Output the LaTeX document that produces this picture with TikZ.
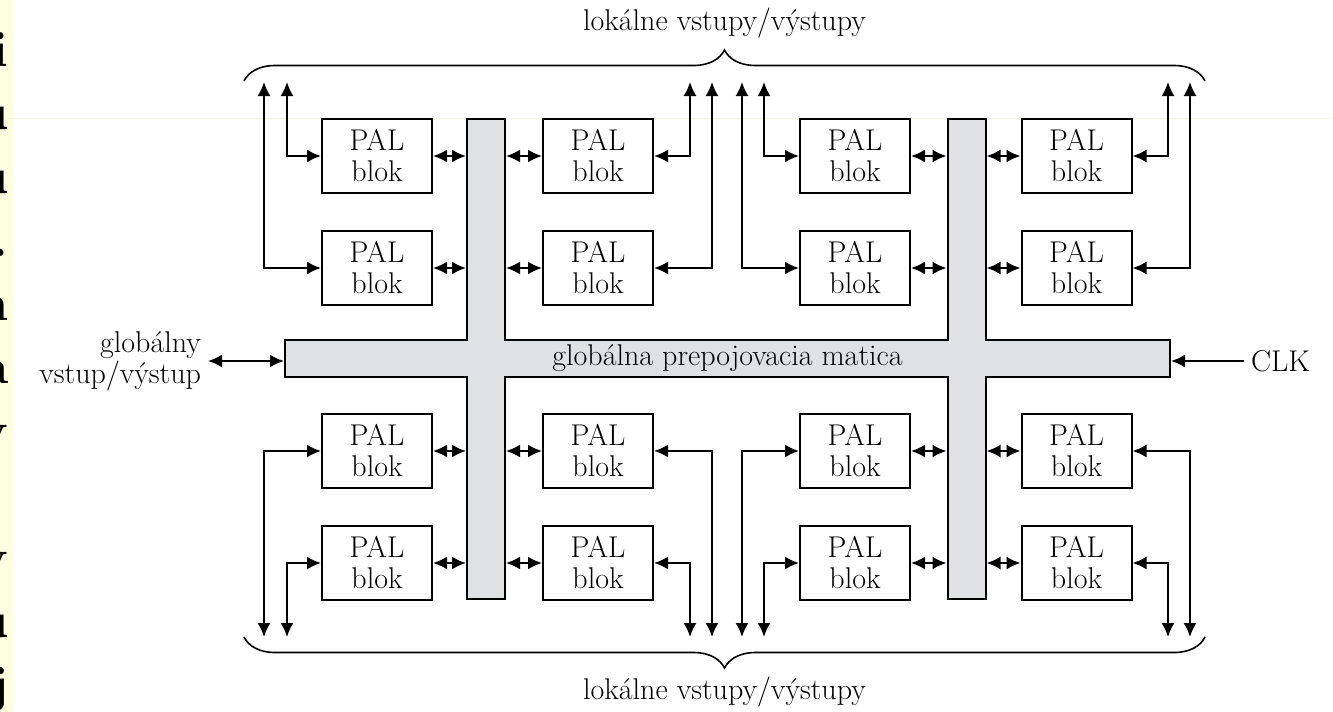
\documentclass[tikz,border=0pt]{standalone}
\usepackage{tikz}
\usetikzlibrary{arrows.meta,calc,decorations.pathreplacing}
\definecolor{MatrixGray}{RGB}{224,225,228}
\definecolor{PageYellow}{RGB}{255,255,226}
\definecolor{PageLine}{RGB}{246,246,222}
\tikzset{%
  PalStyle/.style={draw,line width=1pt,minimum width=55pt,minimum height=37pt,align=center,inner sep=0pt},
  BarStyle/.style={draw,fill=MatrixGray,line width=1pt,inner sep=0pt},
  IOStyle/.style={line width=1pt,{Latex[length=7pt,width=6.5pt]}-{Latex[length=7pt,width=6.5pt]}},
  InStyle/.style={line width=1pt,-{Latex[length=7pt,width=6.5pt]}},
  BraceStyle/.style={decorate,decoration={brace,amplitude=15.5pt},line width=.8pt}
}

\begin{document}
\begin{tikzpicture}[x=0.5pt,y=-0.5pt,font=\fontsize{15}{15.5}\selectfont]
  \useasboundingbox (0,0) rectangle (1333,712);
  % edge of the page text on the left
  \fill[PageYellow] (0,0) rectangle (13,712);
  \draw[PageLine,line width=.5pt] (0,118) -- (1333,118);
  \begin{scope}
    \clip (0,0) rectangle (13,712);
    \foreach \ch/\yy [count=\i] in {i/66,u/129.5,u/193,./256.5,n/320,a/383.5,y/447,y/574,u/637.5,j/701}
      \node[anchor=base east,inner sep=0pt,font=\fontsize{25}{30}\selectfont\bfseries] (m\i) at (9,\yy) {\ch};
  \end{scope}
  % interconnect matrix
  \node[BarStyle,minimum width=442.5pt,minimum height=18.5pt] (h) at (727.5,358.5) {};
  \node[BarStyle,minimum width=19pt,minimum height=240pt] (v1) at (486,359) {};
  \node[BarStyle,minimum width=19pt,minimum height=240pt] (v2) at (966.5,359) {};
  \foreach \n in {h,v1,v2}
    \fill[MatrixGray] ($(\n.north west)+(1pt,-1pt)$) rectangle ($(\n.south east)+(-1pt,1pt)$);
  \node (matica) at (h.center) {globálna prepojovacia matica};
  % PAL blocks
  \foreach \r/\y in {1/156,2/268,3/451,4/563}
    \foreach \c/\x in {1/377,2/598,3/855,4/1076.5}
      \node[PalStyle] (p\r\c) at (\x,\y) {PAL\\blok};
  \foreach \r in {1,...,4}{
    \draw[IOStyle] (p\r1.east) -- (p\r1.east -| v1.west);
    \draw[IOStyle] (p\r2.west) -- (p\r2.west -| v1.east);
    \draw[IOStyle] (p\r3.east) -- (p\r3.east -| v2.west);
    \draw[IOStyle] (p\r4.west) -- (p\r4.west -| v2.east);
  }
  % local inputs/outputs
  \foreach \x/\n/\a in {264/21/west,287/11/west,690/12/east,712/22/east,
                        742/23/west,764/13/west,1168/14/east,1190/24/east}{
    \coordinate (t\n) at (\x,82);
    \draw[IOStyle] (t\n) |- (p\n.\a);
  }
  \foreach \x/\n/\a in {264/31/west,287/41/west,690/42/east,712/32/east,
                        742/33/west,764/43/west,1168/44/east,1190/34/east}{
    \coordinate (d\n) at (\x,637);
    \draw[IOStyle] (d\n) |- (p\n.\a);
  }
  \coordinate (tl) at (244,81);
  \coordinate (tr) at (1205,81);
  \coordinate (dl) at (244,637);
  \coordinate (dr) at (1205,637);
  \draw[BraceStyle] (tl) -- (tr);
  \draw[BraceStyle] (dr) -- (dl);
  \node[anchor=base] (itop) at (724.5,30) {lokálne vstupy/výstupy};
  \node[anchor=base] (ibot) at (724.5,699) {lokálne vstupy/výstupy};
  % global signals
  \node[align=right,anchor=east] (gio) at (208,361) {globálny\\vstup/výstup};
  \draw[IOStyle] (gio.east) -- (gio.east -| h.west);
  \node[anchor=west] (clk) at (1244,361) {CLK};
  \draw[InStyle] (clk.west) -- (clk.west -| h.east);
\end{tikzpicture}
\end{document}
